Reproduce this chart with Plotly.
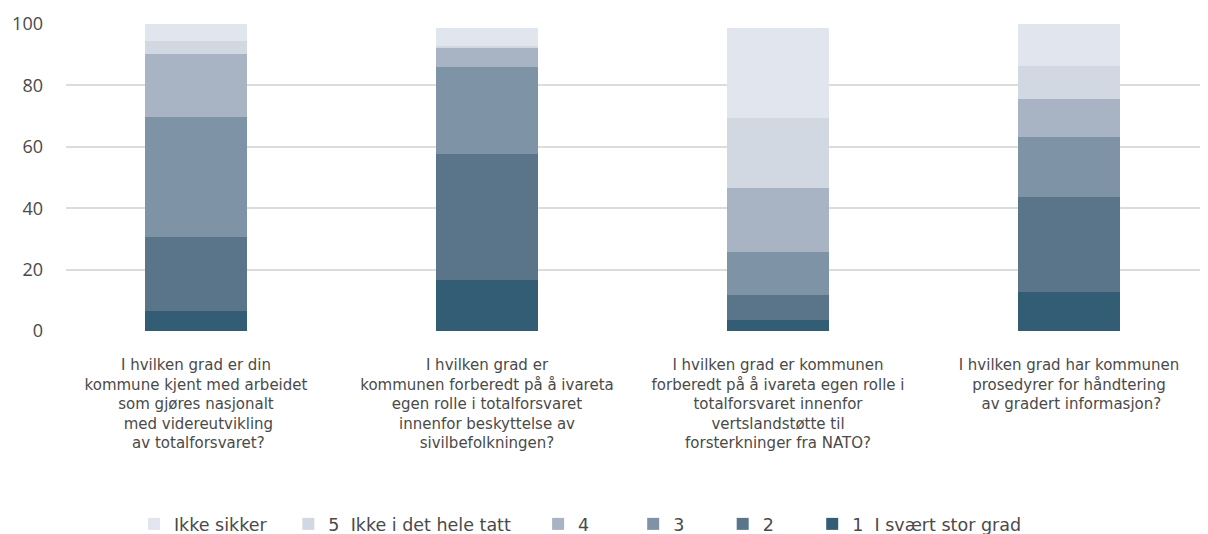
import plotly.graph_objects as go

NB = "\u00a0"
categories = [
    "I hvilken grad er din<br>kommune kjent med arbeidet<br>som gjøres nasjonalt<br>" + NB + "med videreutvikling<br>" + NB + "av totalforsvaret?",
    "I hvilken grad er<br>kommunen forberedt på å ivareta<br>egen rolle i totalforsvaret<br>innenfor beskyttelse av<br>sivilbefolkningen?",
    "I hvilken grad er kommunen<br>forberedt på å ivareta egen rolle i<br>totalforsvaret innenfor<br>vertslandstøtte til<br>forsterkninger fra NATO?",
    "I hvilken grad har kommunen<br>prosedyrer for håndtering<br>" + NB + "av gradert informasjon?",
]

series_names = ["1" + NB + " I svært stor grad", "2", "3", "4", "5" + NB + " Ikke i det hele tatt", "Ikke sikker"]
legend_pad = [0, 6, 6, 7, 4, 3]
v1 = [6.7, 16.6, 3.6, 12.7]
v2 = [23.8, 40.9, 8.0, 30.9]
v3 = [39.3, 28.6, 14.0, 19.7]
v4 = [20.5, 5.9, 21.1, 12.4]
v5 = [4.3, 0.9, 22.6, 10.7]
v_ikke = [5.4, 5.9, 29.5, 13.6]
series_values = [v1, v2, v3, v4, v5, v_ikke]
colors = ["#335d75", "#5a758a", "#7f93a7", "#a8b4c3", "#d1d8e1", "#e1e5ed"]
yticks = [0, 20, 40, 60, 80, 100]

xpos = list(range(len(categories)))

fig = go.Figure()
for name, pad, vals, col in zip(series_names, legend_pad, series_values, colors):
    fig.add_trace(go.Bar(x=xpos, y=vals, name=name + NB * pad,
                         marker=dict(color=col, line=dict(width=0)), width=0.35))

NUMFONT = "Open Sans"
TXTFONT = "DejaVu Sans"
TXT = "#4a4a4a"

fig.update_layout(
    barmode="stack",
    width=1208, height=534,
    margin=dict(l=58, r=8, t=15, b=210),
    paper_bgcolor="white", plot_bgcolor="white",
    font=dict(family=TXTFONT, color=TXT),
    showlegend=True,
    legend=dict(orientation="h", traceorder="reversed", x=0.0595, xanchor="left",
                yref="container", y=0.0, yanchor="bottom",
                font=dict(family=TXTFONT, size=17.5, color=TXT), itemclick=False),
    xaxis=dict(tickmode="array", tickvals=xpos, ticktext=categories,
               range=[-0.4467, 3.4777], showgrid=False, zeroline=False,
               showline=False, ticks="", tickfont=dict(family=TXTFONT, size=15, color=TXT),
               ticklabelstandoff=22, automargin=False),
    yaxis=dict(range=[-0.3, 100.3], tickvals=yticks,
               showgrid=True, gridcolor="#dcdcdc", gridwidth=2, zeroline=False,
               showline=False, ticks="", tickfont=dict(family=NUMFONT, size=18, color=TXT),
               ticklabelstandoff=22, automargin=False),
)
fig.write_html("out.html")
